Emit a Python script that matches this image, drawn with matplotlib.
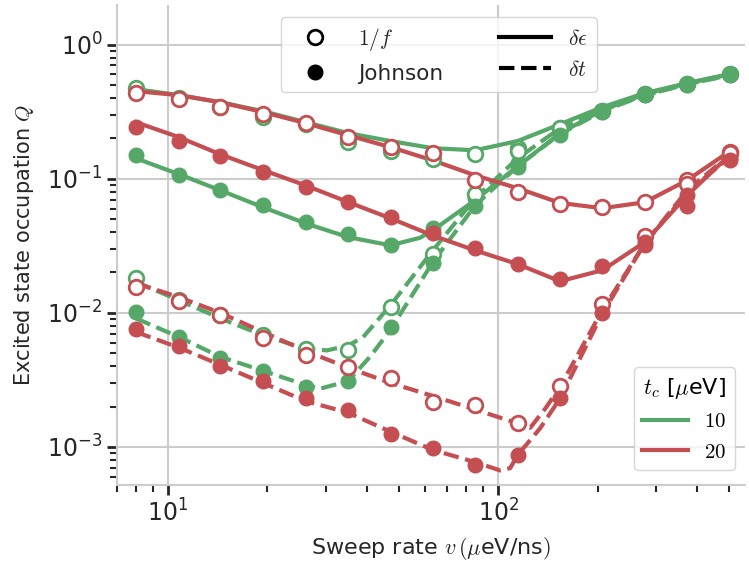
import numpy as np
import matplotlib.pyplot as plt
from matplotlib.lines import Line2D

plt.rcParams['mathtext.fontset'] = 'cm'
plt.rcParams['font.family'] = ['DejaVu Sans']

green = '#55a868'
red = '#c44e52'

# sweep rates (ueV/ns)
rate = [8.0, 10.8, 14.4, 19.4, 26.1, 35.1, 47.2, 63.4, 85.2, 114.5,
        153.9, 206.8, 278.0, 373.6, 502.0]

# simulated points, tc = 10
g_1f_de = [0.473, 0.399, 0.342, 0.288, 0.255, 0.187, 0.160, 0.140, 0.152, 0.169,
           0.238, 0.319, 0.427, 0.507, 0.602]
g_jn_de = [0.151, 0.106, 0.083, 0.0634, 0.0476, 0.0385, 0.0323, 0.0426, 0.0717, 0.130,
           0.222, 0.319, 0.427, 0.507, 0.602]
g_1f_dt = [0.0181, 0.0124, 0.0096, 0.0068, 0.0054, 0.0053, 0.0110, 0.0273, 0.0767, 0.160,
           0.238, 0.319, 0.427, 0.507, 0.602]
g_jn_dt = [0.0101, 0.0066, 0.00457, 0.00366, 0.00278, 0.00310, 0.00779, 0.0234, 0.0624, 0.122,
           0.211, 0.314, 0.420, 0.499, 0.592]

# simulated points, tc = 20
r_1f_de = [0.435, 0.392, 0.342, 0.303, 0.260, 0.204, 0.172, 0.155, 0.0975, 0.0793,
           0.0645, 0.0613, 0.0668, 0.0975, 0.158]
r_jn_de = [0.243, 0.191, 0.147, 0.112, 0.087, 0.067, 0.0517, 0.0394, 0.0302, 0.0231,
           0.0180, 0.0222, 0.0318, 0.063, 0.142]
r_1f_dt = [0.0155, 0.0122, 0.0096, 0.00645, 0.00482, 0.00397, 0.00324, 0.00216, 0.00204, 0.00150,
           0.00283, 0.0116, 0.0372, 0.0913, 0.155]
r_jn_dt = [0.0076, 0.00563, 0.00405, 0.00313, 0.00230, 0.00190, 0.00126, 0.000975, 0.00074, 0.000865,
           0.00230, 0.0099, 0.0336, 0.0753, 0.137]

# model curves (each with its own rate samples)
g_1f_de_fit_x = rate
g_1f_de_fit = [0.466, 0.420, 0.372, 0.319, 0.264, 0.219, 0.191, 0.169, 0.163, 0.191,
               0.255, 0.342, 0.435, 0.516, 0.602]
g_jn_de_fit_x = [8.0, 10.8, 14.4, 19.4, 26.1, 35.1, 47.2, 58.0, 63.4, 85.2, 114.5,
                 153.9, 206.8, 278.0, 373.6, 502.0]
g_jn_de_fit = [0.142, 0.108, 0.082, 0.0613, 0.0465, 0.0367, 0.0319, 0.0363, 0.0413, 0.0693, 0.124,
               0.218, 0.325, 0.427, 0.516, 0.602]
g_1f_dt_fit_x = [8.0, 10.8, 14.4, 19.4, 26.1, 30.3, 35.1, 39.0, 47.2, 63.4, 85.2, 114.5,
                 153.9, 206.8, 278.0, 373.6, 502.0]
g_1f_dt_fit = [0.0170, 0.0124, 0.0091, 0.0068, 0.0054, 0.00525, 0.0057, 0.0066, 0.0114, 0.0292, 0.0717, 0.142,
               0.238, 0.325, 0.420, 0.507, 0.592]
g_jn_dt_fit_x = [8.0, 10.8, 14.4, 19.4, 26.1, 28.9, 35.1, 40.9, 47.2, 63.4, 85.2, 114.5,
                 153.9, 206.8, 278.0, 373.6, 502.0]
g_jn_dt_fit = [0.0091, 0.0066, 0.0047, 0.0037, 0.0029, 0.00272, 0.0031, 0.0047, 0.0075, 0.0239, 0.0634, 0.124,
               0.215, 0.319, 0.420, 0.507, 0.592]
r_1f_de_fit_x = rate
r_1f_de_fit = [0.450, 0.420, 0.372, 0.314, 0.260, 0.211, 0.172, 0.137, 0.106, 0.085,
               0.066, 0.0603, 0.0668, 0.0975, 0.160]
r_jn_de_fit_x = rate
r_jn_de_fit = [0.264, 0.204, 0.152, 0.116, 0.0892, 0.067, 0.0507, 0.0377, 0.0292, 0.0231,
               0.0172, 0.0208, 0.0337, 0.0753, 0.150]
r_1f_dt_fit_x = [8.0, 10.8, 14.4, 19.4, 26.1, 35.1, 47.2, 63.4, 85.2, 114.5, 125.0, 138.8,
                 153.9, 206.8, 278.0, 373.6, 502.0]
r_1f_dt_fit = [0.0166, 0.0131, 0.0100, 0.0072, 0.0052, 0.0039, 0.0030, 0.0024, 0.0019, 0.0015, 0.00139, 0.00193,
               0.0028, 0.0105, 0.0329, 0.082, 0.150]
r_jn_dt_fit_x = [8.0, 10.8, 14.4, 19.4, 26.1, 35.1, 47.2, 63.4, 85.2, 101.4, 108.7, 114.5, 134.0,
                 153.9, 206.8, 278.0, 373.6, 502.0]
r_jn_dt_fit = [0.0072, 0.0055, 0.0041, 0.0030, 0.0022, 0.0018, 0.0013, 0.00095, 0.00077, 0.000668, 0.000695, 0.00087, 0.00138,
               0.0023, 0.0099, 0.033, 0.079, 0.145]

fig = plt.figure(figsize=(7.49, 5.72), dpi=100)
ax = fig.add_axes([0.156, 0.152, 0.839, 0.839])

lw = 3
ms = 10.5

series = [
    (green, g_1f_de, g_1f_de_fit_x, g_1f_de_fit, '-', True),
    (green, g_jn_de, g_jn_de_fit_x, g_jn_de_fit, '-', False),
    (green, g_1f_dt, g_1f_dt_fit_x, g_1f_dt_fit, '--', True),
    (green, g_jn_dt, g_jn_dt_fit_x, g_jn_dt_fit, '--', False),
    (red, r_1f_de, r_1f_de_fit_x, r_1f_de_fit, '-', True),
    (red, r_jn_de, r_jn_de_fit_x, r_jn_de_fit, '-', False),
    (red, r_1f_dt, r_1f_dt_fit_x, r_1f_dt_fit, '--', True),
    (red, r_jn_dt, r_jn_dt_fit_x, r_jn_dt_fit, '--', False),
]
for col, pts, fx, fit, ls, hollow in series:
    ax.plot(fx, fit, ls=ls, color=col, lw=lw, zorder=2, solid_joinstyle='round')
    if hollow:
        ax.plot(rate, pts, 'o', ms=ms, mfc='white', mec=col, mew=2, zorder=3)
    else:
        ax.plot(rate, pts, 'o', ms=ms, mfc=col, mec=col, zorder=3)

ax.set_xscale('log')
ax.set_yscale('log')
ax.set_xlim(7, 560)
ax.set_ylim(5.2e-4, 1.97)

ax.grid(True, which='major', color='#cccccc', lw=1.5)
ax.set_axisbelow(True)
for s in ['top', 'right']:
    ax.spines[s].set_visible(False)
for s in ['left', 'bottom']:
    ax.spines[s].set_color('#cccccc')
    ax.spines[s].set_linewidth(1.5)
ax.tick_params(which='major', length=7, width=2, color='#262626', labelsize=17, labelcolor='#262626')
ax.tick_params(which='minor', length=5, width=1.5, color='#262626')

ax.set_xlabel(r'Sweep rate $v\,(\mu$eV/ns$)$', fontsize=16, color='#262626', labelpad=6)
ax.set_ylabel(r'Excited state occupation $Q$', fontsize=15, color='#262626', labelpad=8)

h1 = [Line2D([], [], ls='', marker='o', ms=ms, mfc='white', mec='k', mew=2),
      Line2D([], [], ls='', marker='o', ms=ms, mfc='k', mec='k'),
      Line2D([], [], ls='-', color='k', lw=lw),
      Line2D([], [], ls='--', color='k', lw=lw)]
l1 = ax.legend(h1, [r'$1/f$', 'Johnson', r'$\delta\epsilon$', r'$\delta t$'],
               ncol=2, loc='upper center', bbox_to_anchor=(0.512, 0.997),
               fontsize=15.5, handlelength=2.4, columnspacing=2.6, frameon=True,
               edgecolor='#cccccc', labelcolor='#262626')
ax.add_artist(l1)

h2 = [Line2D([], [], color=green, lw=lw), Line2D([], [], color=red, lw=lw)]
ax.legend(h2, [r'$10$', r'$20$'], title=r'$t_c$ [$\mu$eV]', title_fontsize=16,
          loc='lower right', bbox_to_anchor=(1.0, 0.01), fontsize=15,
          handlelength=2.2, edgecolor='#cccccc')

fig.savefig('out.png', dpi=100)
